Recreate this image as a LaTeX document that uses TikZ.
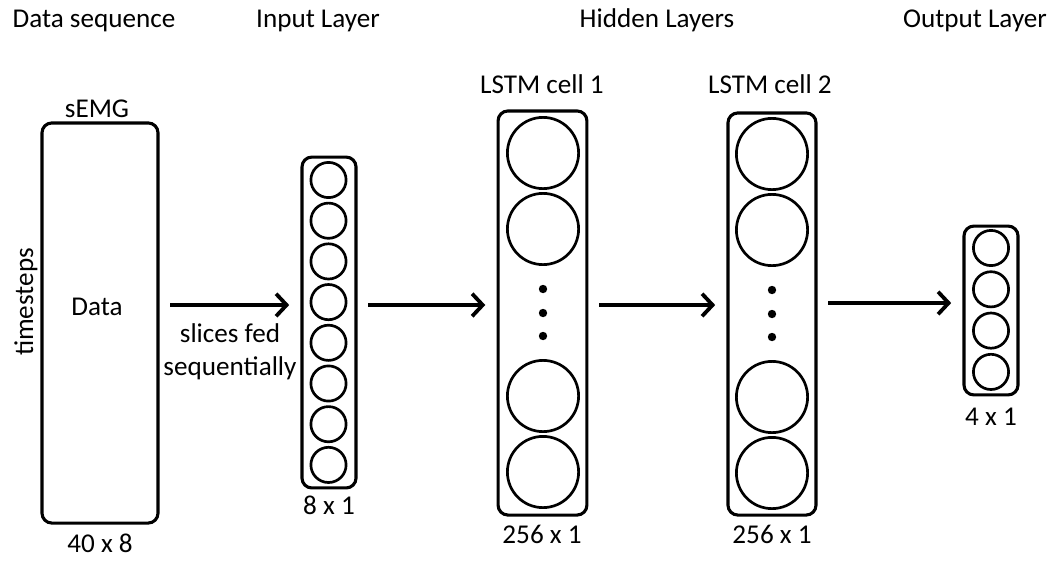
\documentclass[tikz,border=0pt]{standalone}
\usepackage{fontspec}
\setmainfont{Carlito}
\usetikzlibrary{arrows.meta}

\tikzset{
	layer/.style={draw,line width=2.2pt,rounded corners=7pt,inner sep=0pt},
	unit/.style={draw,circle,line width=1.9pt,inner sep=0pt},
	lbl/.style={inner sep=0pt,anchor=base,font=\fontsize{19.3}{23}\selectfont},
	feed/.style={-{Straight Barb[length=7.5pt,width=16pt]},line width=2.7pt,shorten <=7.5pt,shorten >=8pt}
}

\begin{document}
\begin{tikzpicture}[x=0.025cm,y=-0.025cm]

		\useasboundingbox (0,0) rectangle (1059,561);

		% titles
		\node[lbl] (tdata) at (94,27) {Data sequence};
		\node[lbl] (tin) at (318,27) {Input Layer};
		\node[lbl] (thid) at (657,27) {Hidden Layers};
		\node[lbl] (tout) at (975,27) {Output Layer};

		% data sequence
		\node[layer,minimum width=2.9cm,minimum height=10cm] (data) at (100,323) {};
		\node[lbl] (semg) at (97,117) {sEMG};
		\node[lbl] (dtxt) at (97,315) {Data};
		\node[lbl,rotate=90] (tsteps) at (33,302) {timesteps};
		\node[lbl] (dsize) at (100,552) {40 x 8};

		% input layer
		\node[layer,minimum width=1.35cm,minimum height=8.27cm] (input) at (329,322.5) {};
		\foreach \i in {0,...,7}
			\node[unit,minimum size=0.88cm] (in\i) at (328.5,{180+40.7*\i}) {};
		\node[lbl] (insize) at (329,514) {8 x 1};

		% hidden layers
		\node[layer,minimum width=2.22cm,minimum height=10.1cm] (lstma) at (542.5,313) {};
		\node[layer,minimum width=2.2cm,minimum height=10.05cm] (lstmb) at (772,314) {};
		\foreach \c/\x/\y in {a/543/313,b/772/314} {
			\foreach \n/\dy in {1/-160,2/-84,3/83,4/159}
				\node[unit,minimum size=1.78cm] (h\c\n) at (\x,{\y+\dy}) {};
			\foreach \n/\dy in {1/-24,2/0,3/23}
				\fill (\x,{\y+\dy}) circle[radius=0.105cm];
		}
		\node[lbl] (la) at (542,93) {LSTM cell 1};
		\node[lbl] (lb) at (770,93) {LSTM cell 2};
		\node[lbl] (asize) at (542,543) {256 x 1};
		\node[lbl] (bsize) at (772,543) {256 x 1};

		% output layer
		\node[layer,minimum width=1.35cm,minimum height=4.22cm] (output) at (991,310.5) {};
		\foreach \i in {0,...,3}
			\node[unit,minimum size=0.88cm] (out\i) at (991,{248+41.3*\i}) {};
		\node[lbl] (osize) at (991,425) {4 x 1};

		% arrows
		\coordinate (mid) at (0,305);
		\coordinate (midb) at (0,303);
		\draw[feed] (data.east |- mid) -- (input.west |- mid);
		\draw[feed] (input.east |- mid) -- (lstma.west |- mid);
		\draw[feed] (lstma.east |- mid) -- (lstmb.west |- mid);
		\draw[feed] (lstmb.east |- midb) -- (output.west |- midb);
		\node[lbl] (slices) at (230,342) {slices fed};
		\node[lbl] (seq) at (230,375) {sequentially};
	\end{tikzpicture}
\end{document}
